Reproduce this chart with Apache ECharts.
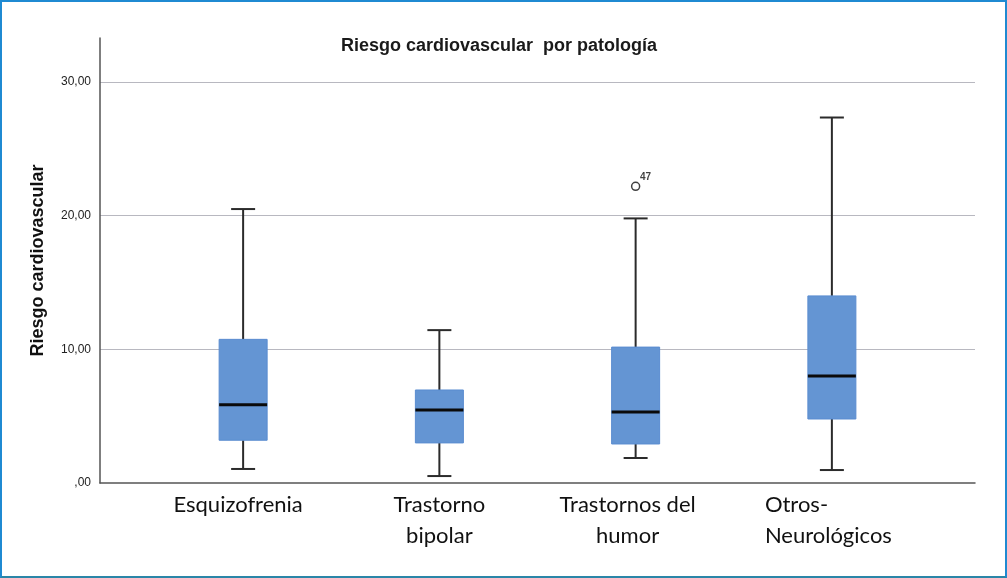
<!DOCTYPE html>
<html>
<head>
<meta charset="utf-8">
<script src="https://cdn.jsdelivr.net/npm/echarts@6/dist/echarts.min.js"></script>
<style>
html,body{margin:0;padding:0;background:#fff;}
#frame{position:absolute;left:0;top:0;width:1007px;height:578px;box-sizing:border-box;border:2px solid #1f8ad2;border-bottom:2px solid #2a86a8;}
#chart{position:absolute;left:0;top:0;width:1007px;height:578px;}
</style>
</head>
<body>
<div id="chart"></div>
<div id="frame"></div>
<script>
const categories = ['Esquizofrenia', 'Trastorno bipolar', 'Trastornos del humor', 'Otros-Neurológicos'];
const labelLines = [['Esquizofrenia'], ['Trastorno', 'bipolar'], ['Trastornos del', 'humor'], ['Otros-', 'Neurológicos']];
// [min, Q1, median, Q3, max]
const boxStats = [
  [1.05, 3.2, 5.85, 10.75, 20.5],
  [0.52, 3.0, 5.46, 6.96, 11.44],
  [1.87, 2.92, 5.31, 10.17, 19.8],
  [0.97, 4.79, 8.0, 14.0, 27.35]
];
const outliers = [[2, 22.2, '47']];
const yTicks = [0, 10, 20, 30];
const yLabels = [',00', '10,00', '20,00', '30,00'];

const chart = echarts.init(document.getElementById('chart'));
const yMax = 33.3;

function renderBox(params, api) {
  const i = api.value(0);
  const mn = api.value(1), q1 = api.value(2), md = api.value(3), q3 = api.value(4), mx = api.value(5);
  const cMin = api.coord([i, mn]), cQ1 = api.coord([i, q1]), cMd = api.coord([i, md]);
  const cQ3 = api.coord([i, q3]), cMx = api.coord([i, mx]);
  const x = cMin[0];
  const bw = 48, cw = 24;
  const whisk = {stroke: '#2b2b2b', lineWidth: 2};
  return {
    type: 'group',
    children: [
      {type: 'line', shape: {x1: x, y1: cMx[1], x2: x, y2: cQ3[1]}, style: whisk},
      {type: 'line', shape: {x1: x, y1: cQ1[1], x2: x, y2: cMin[1]}, style: whisk},
      {type: 'line', shape: {x1: x - cw / 2, y1: cMx[1], x2: x + cw / 2, y2: cMx[1]}, style: whisk},
      {type: 'line', shape: {x1: x - cw / 2, y1: cMin[1], x2: x + cw / 2, y2: cMin[1]}, style: whisk},
      {type: 'rect', shape: {x: x - bw / 2, y: cQ3[1], width: bw, height: cQ1[1] - cQ3[1]}, style: {fill: '#6495d3', stroke: '#5a8cd0', lineWidth: 1}},
      {type: 'line', shape: {x1: x - bw / 2, y1: cMd[1], x2: x + bw / 2, y2: cMd[1]}, style: {stroke: '#0a0a0a', lineWidth: 3}}
    ]
  };
}

const labFont = {fontFamily: 'Lato', fontSize: 22, lineHeight: 31, color: '#111'};
const option = {
  backgroundColor: '#ffffff',
  animation: false,
  title: {
    text: 'Riesgo cardiovascular  por patología',
    left: 494, top: 32, textAlign: 'center',
    textStyle: {fontFamily: 'Liberation Sans', fontWeight: 'bold', fontSize: 18, color: '#1a1a1a'}
  },
  grid: [
    {left: 145, right: 1007 - 930, top: 38, bottom: 95},
    {left: 100, right: 1007 - 975, top: 38, bottom: 95}
  ],
  xAxis: [
    {
      type: 'category', gridIndex: 0, data: categories, boundaryGap: true,
      axisLine: {show: false}, axisTick: {show: false},
      axisLabel: {
        interval: 0, margin: 6, verticalAlign: 'top',
        fontFamily: 'Lato', fontSize: 22, lineHeight: 31, color: '#111',
        formatter: function (v, idx) {
          const lines = labelLines[idx];
          const key = ['e', 'c', 'h', 'l'][idx];
          return lines.map(s => '{' + key + '|' + s + '}').join('\n');
        },
        rich: {
          e: Object.assign({padding: [0, 10, 0, 0]}, labFont),
          c: Object.assign({}, labFont),
          h: Object.assign({padding: [0, 16, 0, 0]}, labFont),
          l: Object.assign({width: 134, align: 'left', padding: [0, 0, 0, 0]}, labFont)
        }
      }
    },
    {
      type: 'value', gridIndex: 1, min: 0, max: 1,
      axisLine: {show: true, onZero: false, lineStyle: {color: '#555', width: 1.5}},
      axisTick: {show: false}, axisLabel: {show: false}, splitLine: {show: false}
    }
  ],
  yAxis: [
    {
      type: 'value', gridIndex: 0, min: 0, max: yMax, interval: 10,
      axisLine: {show: false}, axisTick: {show: false}, axisLabel: {show: false}, splitLine: {show: false}
    },
    {
      type: 'value', gridIndex: 1, min: 0, max: yMax, interval: 10,
      name: 'Riesgo cardiovascular', nameLocation: 'middle', nameGap: 53, nameRotate: 90,
      nameTextStyle: {fontFamily: 'Liberation Sans', fontWeight: 'bold', fontSize: 18, color: '#111'},
      axisLine: {show: true, lineStyle: {color: '#555', width: 1.5}},
      axisTick: {show: false},
      axisLabel: {
        showMaxLabel: false, margin: 9, fontFamily: 'Liberation Sans', fontSize: 12, color: '#222',
        formatter: function (v) { const k = yTicks.indexOf(v); return k >= 0 ? yLabels[k] : ''; }
      },
      splitLine: {show: true, showMaxLine: false, showMinLine: false, lineStyle: {color: '#b8b8c0', width: 1.2}}
    }
  ],
  series: [
    {
      type: 'custom', xAxisIndex: 0, yAxisIndex: 0,
      renderItem: renderBox,
      encode: {x: 0, y: [1, 2, 3, 4, 5]},
      data: boxStats.map((b, i) => [i].concat(b)),
      z: 5
    },
    {
      type: 'scatter', xAxisIndex: 0, yAxisIndex: 0,
      symbol: 'circle', symbolSize: 8,
      itemStyle: {color: '#fff', borderColor: '#111', borderWidth: 1.5},
      label: {
        show: true, position: [9, -9], formatter: function (p) { return p.data[2]; },
        fontFamily: 'Liberation Sans', fontWeight: 'bold', fontSize: 10, color: '#111'
      },
      data: outliers.map(o => [o[0], o[1], o[2]]),
      z: 6
    }
  ]
};
chart.setOption(option);
</script>
</body>
</html>
